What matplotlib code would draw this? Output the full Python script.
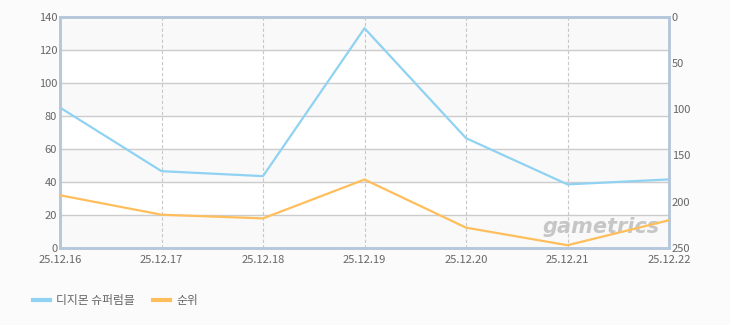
import matplotlib
matplotlib.use("Agg")
import matplotlib.pyplot as plt
from matplotlib.lines import Line2D

plt.rcParams['font.family'] = ['Noto Sans CJK KR', 'DejaVu Sans']

# data
dates = ['25.12.16', '25.12.17', '25.12.18', '25.12.19', '25.12.20', '25.12.21', '25.12.22']
users = [85, 46.5, 43.5, 133, 66.5, 38.5, 41.5]
rank = [193, 214, 218, 176, 228, 247, 220]
series_names = ['디지몬 슈퍼럼블', '순위']

blue = '#90d2f2'
orange = '#ffbe5c'
spine_col = '#b5c7da'
txt_col = '#666666'

fig = plt.figure(figsize=(7.3, 3.25), dpi=100, facecolor='#fbfbfb')
ax = fig.add_axes([60/730, 1-248/325, 609/730, 231.3/325])
ax.set_facecolor('white')

x = list(range(len(dates)))
ax.set_xlim(0, len(dates)-1)
ax.set_ylim(0, 140)

# alternating bands
for i, lo in enumerate(range(0, 140, 20)):
    if i % 2 == 0:
        ax.axhspan(lo, lo+20, color='#f9f9f9', zorder=0)

ax.set_yticks(range(0, 141, 20))
ax.grid(axis='y', color='#cccccc', linewidth=1, linestyle='-', zorder=1)
for xi in x[1:-1]:
    ax.axvline(xi, color='#c8c8c8', linewidth=0.8, linestyle=(0, (3, 2)), zorder=1)

ax.plot(x, users, color=blue, linewidth=1.6, zorder=3, solid_joinstyle='miter')

ax.set_xticks(x)
ax.set_xticklabels(dates)
ax.tick_params(axis='both', length=0, labelsize=8, colors=txt_col)
ax.tick_params(axis='x', pad=5)
ax.tick_params(axis='y', pad=2)

ax2 = ax.twinx()
ax2.set_ylim(250, 0)
ax2.set_yticks(range(0, 251, 50))
ax2.tick_params(axis='y', length=0, labelsize=8, colors=txt_col, pad=2)
ax2.plot(x, rank, color=orange, linewidth=1.6, zorder=3)

for a in (ax, ax2):
    for s in a.spines.values():
        s.set_color(spine_col)
        s.set_linewidth(1.8)

# watermark
ax.text(0.985, 0.09, 'gametrics', transform=ax.transAxes, fontsize=15,
        fontweight='bold', style='italic', color='#c6c6c6', ha='right', va='center',
        family='DejaVu Sans', zorder=2)

handles = [Line2D([], [], color=blue, linewidth=3), Line2D([], [], color=orange, linewidth=3)]
fig.legend(handles, series_names, loc='center left', bbox_to_anchor=(0.03, 0.075),
           ncol=2, frameon=False, fontsize=8.5, labelcolor=txt_col,
           handlelength=1.5, handletextpad=0.5, columnspacing=1.5)

fig.savefig('out.png', dpi=100, facecolor=fig.get_facecolor())
